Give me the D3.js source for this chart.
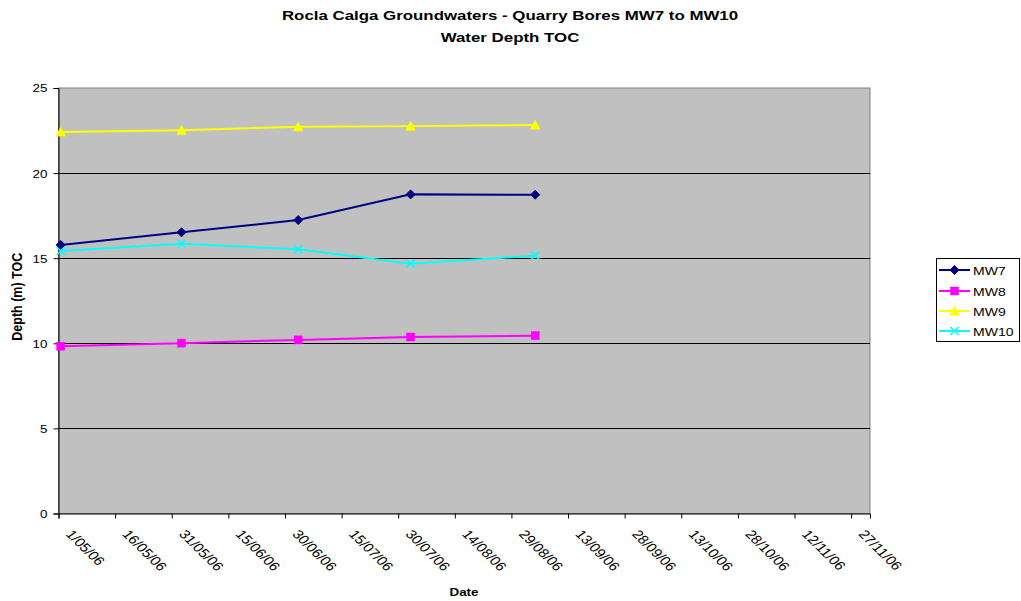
<!DOCTYPE html>
<html>
<head>
<meta charset="utf-8">
<script src="https://cdn.jsdelivr.net/npm/d3@7"></script>
<style>
  html, body { margin: 0; padding: 0; background: #fff; }
  svg { display: block; font-family: "Liberation Sans", Arial, sans-serif; }
</style>
</head>
<body>
<div id="chart"></div>
<script>
// Sampling times (d/mm/yy hh:mm) and water depth below top of casing (m)
const sampleDates = ["1/05/06 14:00", "2/06/06 14:00", "3/07/06 12:00", "2/08/06 07:00", "4/09/06 07:00"];
const mw7  = [15.78, 16.52, 17.24, 18.75, 18.73];
const mw8  = [9.83, 10.01, 10.20, 10.37, 10.45];
const mw9  = [22.42, 22.52, 22.72, 22.76, 22.82];
const mw10 = [15.42, 15.85, 15.52, 14.68, 15.15];

const seriesNames = ["MW7", "MW8", "MW9", "MW10"];
const xTickLabels = ["1/05/06", "16/05/06", "31/05/06", "15/06/06", "30/06/06", "15/07/06",
  "30/07/06", "14/08/06", "29/08/06", "13/09/06", "28/09/06", "13/10/06", "28/10/06",
  "12/11/06", "27/11/06"];
const xDomainLabels = ["1/05/06", "2/12/06"];
const yTicks = [0, 5, 10, 15, 20, 25];

const parseDay = d3.utcParse("%d/%m/%y");
const parseTime = d3.utcParse("%d/%m/%y %H:%M");

const width = 1021, height = 601;
const margin = { left: 58.5, right: 1021 - 870, top: 88, bottom: 601 - 513.5 };
const SX = 1.22; // horizontal text stretch

const svg = d3.select("#chart").append("svg")
  .attr("width", width).attr("height", height);

const x = d3.scaleUtc()
  .domain(xDomainLabels.map(parseDay))
  .range([margin.left, width - margin.right]);
const y = d3.scaleLinear()
  .domain([0, 25])
  .range([height - margin.bottom, margin.top]);

// Plot area
svg.append("rect")
  .attr("x", x.range()[0]).attr("y", y(25))
  .attr("width", x.range()[1] - x.range()[0])
  .attr("height", y(0) - y(25))
  .attr("fill", "#c0c0c0")
  .attr("stroke", "#808080").attr("stroke-width", 1);

// Horizontal gridlines
svg.append("g").selectAll("line")
  .data(yTicks.filter(v => v > 0 && v < 25))
  .join("line")
  .attr("x1", x.range()[0]).attr("x2", x.range()[1])
  .attr("y1", d => Math.round(y(d)) + 0.5).attr("y2", d => Math.round(y(d)) + 0.5)
  .attr("stroke", "#000").attr("stroke-width", 1);

// Y axis
const yAxis = svg.append("g")
  .attr("transform", `translate(${x.range()[0]},0)`)
  .call(d3.axisLeft(y).tickValues(yTicks).tickSize(5).tickFormat(d3.format("d")));
yAxis.selectAll("path, line").attr("stroke", "#000");
yAxis.selectAll("text")
  .attr("font-size", 11).attr("fill", "#000")
  .attr("font-family", "Liberation Sans, Arial, sans-serif")
  .attr("x", 0).attr("dy", "0.36em")
  .attr("transform", `translate(-11,0) scale(${SX},1)`);

// X axis
const xTickDates = xTickLabels.map(parseDay);
const xAxis = svg.append("g")
  .attr("transform", `translate(0,${y(0)})`)
  .call(d3.axisBottom(x).tickValues(xTickDates).tickSize(5).tickFormat((d, i) => xTickLabels[i]));
xAxis.selectAll("path, line").attr("stroke", "#000");
xAxis.selectAll("text")
  .attr("font-size", 12.5).attr("fill", "#000")
  .attr("font-family", "Liberation Sans, Arial, sans-serif")
  .attr("text-anchor", "start")
  .attr("x", 0).attr("y", 0).attr("dy", "0")
  .attr("transform", `translate(6,21) scale(${SX},1) rotate(50)`);

// Titles
const title = svg.append("g").attr("font-size", 13.5).attr("font-weight", "bold");
title.append("text").attr("transform", `translate(510,20) scale(1.25,1)`)
  .attr("text-anchor", "middle")
  .text("Rocla Calga Groundwaters - Quarry Bores MW7 to MW10");
title.append("text").attr("transform", `translate(510,42) scale(1.25,1)`)
  .attr("text-anchor", "middle")
  .text("Water Depth TOC");
svg.append("text").attr("transform", `translate(464,596) scale(${SX},1)`)
  .attr("text-anchor", "middle").attr("font-size", 11).attr("font-weight", "bold")
  .text("Date");
svg.append("text")
  .attr("transform", `translate(22,${(y(0) + y(25)) / 2 - 4}) scale(${SX},1) rotate(-90)`)
  .attr("text-anchor", "middle").attr("font-size", 12.5).attr("font-weight", "bold")
  .text("Depth (m) TOC");

// Series
const series = [
  { name: seriesNames[0], values: mw7,  color: "#000080", marker: "diamond" },
  { name: seriesNames[1], values: mw8,  color: "#ff00ff", marker: "square" },
  { name: seriesNames[2], values: mw9,  color: "#ffff00", marker: "triangle" },
  { name: seriesNames[3], values: mw10, color: "#00ffff", marker: "cross" }
];

function drawMarker(g, type, color) {
  if (type === "diamond") {
    g.append("path").attr("d", "M0,-4.5L4.5,0L0,4.5L-4.5,0Z").attr("fill", color).attr("stroke", color);
  } else if (type === "square") {
    g.append("rect").attr("x", -4).attr("y", -4).attr("width", 8).attr("height", 8)
      .attr("fill", color).attr("stroke", color).attr("stroke-width", 0.5);
  } else if (type === "triangle") {
    g.append("path").attr("d", "M0,-4.5L4.5,4L-4.5,4Z").attr("fill", color).attr("stroke", color);
  } else {
    g.append("path").attr("d", "M-4,-4L4,4M-4,4L4,-4").attr("fill", "none")
      .attr("stroke", color).attr("stroke-width", 1.5);
  }
}

const line = d3.line().x(d => x(d.date)).y(d => y(d.value));
series.forEach(s => {
  const pts = s.values.map((v, i) => ({ date: parseTime(sampleDates[i]), value: v }));
  svg.append("path").datum(pts).attr("d", line)
    .attr("fill", "none").attr("stroke", s.color).attr("stroke-width", 2);
  pts.forEach(p => {
    const g = svg.append("g").attr("transform", `translate(${x(p.date)},${y(p.value)})`);
    drawMarker(g, s.marker, s.color);
  });
});

// Legend
const legend = svg.append("g");
legend.append("rect").attr("x", 936.5).attr("y", 258.5).attr("width", 83).attr("height", 83)
  .attr("fill", "#fff").attr("stroke", "#000").attr("stroke-width", 1);
const legendY = [270, 291, 311, 331];
series.forEach((s, i) => {
  const ly = legendY[i];
  legend.append("line").attr("x1", 939).attr("x2", 970).attr("y1", ly).attr("y2", ly)
    .attr("stroke", s.color).attr("stroke-width", 2);
  const g = legend.append("g").attr("transform", `translate(954.5,${ly})`);
  drawMarker(g, s.marker, s.color);
  legend.append("text").attr("transform", `translate(973,${ly + 4.5}) scale(${SX},1)`)
    .attr("font-size", 11.5).attr("fill", "#000").text(s.name);
});
</script>
</body>
</html>
